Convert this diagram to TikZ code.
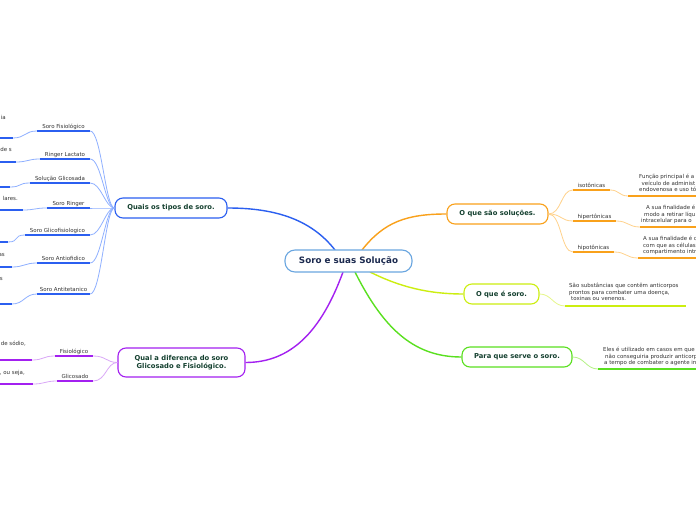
\documentclass[tikz,border=0pt]{standalone}
\usepackage{fontspec}
\setmainfont{DejaVu Sans}
\definecolor{centralc}{HTML}{6AA6E0}
\definecolor{centraltext}{HTML}{1C2A4F}
\definecolor{maintext}{HTML}{14402F}
\definecolor{subtext}{HTML}{333333}
\definecolor{blueM}{HTML}{2B5FF0}
\definecolor{blueL}{HTML}{8FB0FF}
\definecolor{orangeM}{HTML}{F9A11B}
\definecolor{orangeL}{HTML}{FFD28C}
\definecolor{yellowM}{HTML}{CCEE10}
\definecolor{yellowL}{HTML}{E6F78A}
\definecolor{greenM}{HTML}{5AE020}
\definecolor{greenL}{HTML}{B4F285}
\definecolor{purpleM}{HTML}{A320F0}
\definecolor{purpleL}{HTML}{DAA8F7}
\begin{document}
\begin{tikzpicture}[x=1bp,y=-1bp,
  mainbox/.style={draw, line width=1.1bp, rounded corners=8bp, fill=white,
    font=\fontsize{6.8}{8.2}\selectfont\bfseries, text=maintext, inner sep=0pt,
    minimum height=20bp, align=center},
  subnode/.style={font=\fontsize{5.5}{6.6}\selectfont, text=subtext, inner xsep=0pt,
    inner ysep=1.5bp, text height=4bp, text depth=1bp, anchor=south},
  leaftext/.style={font=\fontsize{5.5}{6.6}\selectfont, text=subtext, inner sep=0pt, align=left, anchor=north west},
  frag/.style={font=\fontsize{5.5}{6.6}\selectfont, text=subtext, inner sep=0pt, anchor=mid east},
  ulline/.style={line width=1.8bp},
  thinline/.style={line width=0.8bp},
  mainline/.style={line width=1.4bp},
]
\useasboundingbox (0,0) rectangle (696,520);
\fill[white] (0,0) rectangle (696,520);

% ---------- main connectors (drawn first) ----------
\coordinate (cb) at (335,250);
\coordinate (co) at (362,250);
\coordinate (cy) at (370,272);
\coordinate (cg) at (355,272);
\coordinate (cp) at (343,272);

\node[mainbox, draw=blueM, minimum width=112bp] (q) at (171,208) {Quais os tipos de soro.};
\node[mainbox, draw=orangeM, minimum width=101bp] (os) at (497.5,214) {O que são soluções.};
\node[mainbox, draw=yellowM, minimum width=75bp] (oe) at (501.5,294) {O que é soro.};
\node[mainbox, draw=greenM, minimum width=110bp] (ps) at (517,357) {Para que serve o soro.};
\node[mainbox, draw=purpleM, minimum width=127bp, minimum height=29bp] (qd) at (181.5,362.5) {Qual a diferença do soro\\Glicosado e Fisiológico.};

\draw[mainline, blueM] (cb) .. controls +(-25,-32) and +(45,0) .. (q.east);
\draw[mainline, orangeM] (co) .. controls +(22,-28) and +(-40,0) .. (os.west);
\draw[mainline, yellowM] (cy) .. controls +(30,15) and +(-35,0) .. (oe.west);
\draw[mainline, greenM] (cg) .. controls +(30,60) and +(-45,0) .. (ps.west);
\draw[mainline, purpleM] (cp) .. controls +(-22,60) and +(45,0) .. (qd.east);

\node[mainbox, draw=centralc, text=centraltext, font=\fontsize{8.8}{10}\selectfont\bfseries,
  minimum width=127bp, minimum height=22bp, rounded corners=10bp] (c) at (348.5,261) {Soro e suas Solução};

% ---------- blue children ----------
\foreach \n/\cx/\uy/\w/\t in {b1/63.5/131/53/Soro Fisiológico, b2/65/159/50/Ringer Lactato,
  b3/60/183/60/Solução Glicosada, b4/68.5/208/43/Soro Ringer, b5/57.5/235/65/Soro Glicofisiologico,
  b6/63.5/263/53/Soro Antiofidico, b7/63.5/294/53/Soro Antitetanico}{
  \node[subnode, minimum width=\w bp] (\n) at (\cx,\uy) {\t};
  \draw[thinline, blueL] (\n.south east) .. controls +(11,0) and +(-9,0) .. (q.west);
  \draw[ulline, blueM] (\n.south west) -- (\n.south east);
}
% blue leaves
\foreach \n/\x/\y/\b in {l1/13/138/b1, l2/16/162/b2, l3/10/187/b3, l4/23/210/b4, l5/8/242/b5, l6/12/267/b6, l7/12/304/b7}{
  \coordinate (\n) at (\x,\y);
  \draw[thinline, blueL] (\n) .. controls +(12,0) and +(-12,0) .. (\b.south west);
  \draw[ulline, blueM] (-5,\y) -- (\n);
}
\node[frag] (t1) at (6,117) {ia};
\node[frag] (t2) at (12,149) {de s};
\node[frag] (t4) at (18,198) {lares.};
\node[frag] (t6) at (5,254) {as};
\node[frag] (t7) at (3,278) {s};

% ---------- purple children ----------
\node[subnode, minimum width=38bp] (p1) at (74,356) {Fisiológico};
\node[subnode, minimum width=36bp] (p2) at (75,381) {Glicosado};
\foreach \n in {p1,p2}{
  \draw[thinline, purpleL] (\n.south east) .. controls +(13,0) and +(-11,0) .. (qd.west);
  \draw[ulline, purpleM] (\n.south west) -- (\n.south east);
}
\coordinate (pl1) at (32,360);
\coordinate (pl2) at (33,384);
\draw[thinline, purpleL] (pl1) .. controls +(12,0) and +(-12,0) .. (p1.south west);
\draw[thinline, purpleL] (pl2) .. controls +(12,0) and +(-12,0) .. (p2.south west);
\draw[ulline, purpleM] (-5,360) -- (pl1);
\draw[ulline, purpleM] (-5,384) -- (pl2);
\node[frag] (pt1) at (26,343) {de sódio,};
\node[frag] (pt2) at (25,372) {, ou seja,};

% ---------- orange children ----------
\node[subnode, minimum width=37bp] (o1) at (591.5,190) {isotônicas};
\node[subnode, minimum width=43bp] (o2) at (594.5,221) {hipertônicas};
\node[subnode, minimum width=41bp] (o3) at (593.5,252) {hipotônicas};
\foreach \n in {o1,o2,o3}{
  \draw[thinline, orangeL] (os.east) .. controls +(13,0) and +(-12,0) .. (\n.south west);
  \draw[ulline, orangeM] (\n.south west) -- (\n.south east);
}
\coordinate (ol1) at (628,196);
\coordinate (ol2) at (640,227);
\coordinate (ol3) at (638,258);
\draw[thinline, orangeL] (o1.south east) .. controls +(9,0) and +(-9,0) .. (ol1);
\draw[thinline, orangeL] (o2.south east) .. controls +(12,0) and +(-12,0) .. (ol2);
\draw[thinline, orangeL] (o3.south east) .. controls +(12,0) and +(-12,0) .. (ol3);
\draw[ulline, orangeM] (ol1) -- (700,196);
\draw[ulline, orangeM] (ol2) -- (700,227);
\draw[ulline, orangeM] (ol3) -- (700,258);
\node[leaftext] (olt1) at (639,174) {Função principal é a\\\hspace*{2.5bp}veículo de administ\\endovenosa e uso tó};
\node[leaftext] (olt2) at (641,205) {\hspace*{5bp}A sua finalidade é\\\hspace*{3bp}modo a retirar líqu\\intracelular para o};
\node[leaftext] (olt3) at (643,236) {A sua finalidade é c\\com que as células\\compartimento intr};

% ---------- yellow child ----------
\coordinate (yl) at (565,306);
\draw[thinline, yellowL] (oe.east) .. controls +(12,0) and +(-12,0) .. (yl);
\draw[ulline, yellowM] (yl) -- (686,306);
\node[leaftext] (ylt) at (569,283) {São substâncias que contêm anticorpos\\prontos para combater uma doença,\\\hspace*{2bp}toxinas ou venenos.};

% ---------- green child ----------
\coordinate (gl) at (598,369);
\draw[thinline, greenL] (ps.east) .. controls +(12,0) and +(-12,0) .. (gl);
\draw[ulline, greenM] (gl) -- (700,369);
\node[leaftext] (glt) at (603,347) {Eles é utilizado em casos em que\\\hspace*{2bp}não conseguiria produzir anticorp\\\hspace*{1bp}a tempo de combater o agente in};
\end{tikzpicture}
\end{document}
